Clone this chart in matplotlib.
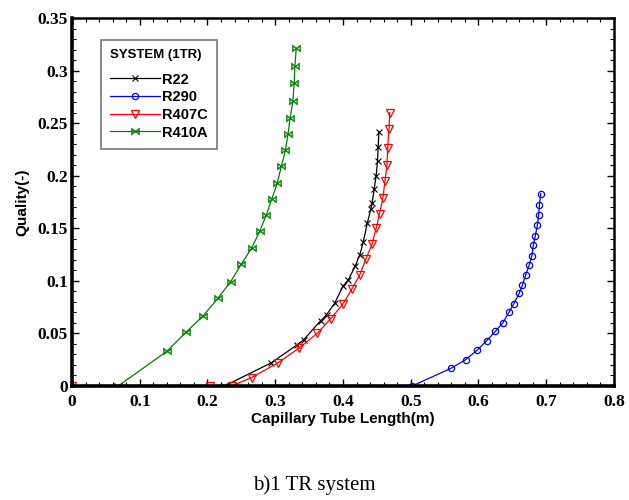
import numpy as np
import matplotlib.pyplot as plt
from matplotlib.ticker import MultipleLocator

# R22 (black, x markers)
r22_len = [0.225, 0.294, 0.332, 0.342, 0.367, 0.376, 0.388, 0.400, 0.408, 0.418,
           0.425, 0.430, 0.436, 0.441, 0.443, 0.446, 0.449, 0.451, 0.452, 0.453]
r22_q = [0.0, 0.022, 0.039, 0.044, 0.062, 0.068, 0.079, 0.095, 0.101, 0.114,
         0.125, 0.137, 0.155, 0.168, 0.174, 0.187, 0.200, 0.214, 0.227, 0.242]

# R290 (blue, circles)
r290_len = [0.502, 0.560, 0.581, 0.598, 0.612, 0.625, 0.636, 0.645, 0.652, 0.660,
            0.665, 0.670, 0.675, 0.679, 0.681, 0.684, 0.687, 0.689, 0.690, 0.692]
r290_q = [0.0, 0.017, 0.025, 0.034, 0.043, 0.052, 0.060, 0.070, 0.078, 0.088,
          0.096, 0.106, 0.115, 0.124, 0.134, 0.143, 0.153, 0.163, 0.172, 0.183]

# R407C (red, down triangles)
r407c_len = [0.0, 0.204, 0.236, 0.265, 0.304, 0.335, 0.362, 0.382, 0.400, 0.413, 0.425,
             0.434, 0.443, 0.449, 0.454, 0.459, 0.462, 0.465, 0.466, 0.468, 0.469]
r407c_q = [0.0, 0.0, 0.0, 0.008, 0.022, 0.036, 0.050, 0.064, 0.078, 0.092, 0.106,
           0.121, 0.135, 0.150, 0.164, 0.179, 0.195, 0.210, 0.226, 0.244, 0.260]

# R410A (green, bowtie)
r410a_len = [0.068, 0.140, 0.168, 0.194, 0.216, 0.234, 0.250, 0.265, 0.277, 0.287,
             0.295, 0.303, 0.309, 0.315, 0.319, 0.322, 0.326, 0.328, 0.329, 0.331]
r410a_q = [0.0, 0.033, 0.051, 0.067, 0.084, 0.099, 0.116, 0.131, 0.147, 0.163,
           0.178, 0.193, 0.209, 0.224, 0.240, 0.255, 0.271, 0.288, 0.304, 0.321]


def main():
    fig = plt.figure(figsize=(6.29, 5.0), dpi=100)
    ax = fig.add_axes([0.1145, 0.228, 0.8615, 0.736])

    ax.plot(r22_len, r22_q, '-', color='black', lw=0.9, marker='x', ms=5,
            mew=0.8, label='R22')
    ax.plot(r290_len, r290_q, '-', color='blue', lw=0.9, marker='o', ms=4.5,
            mfc='none', mew=0.9, label='R290')
    ax.plot(r407c_len, r407c_q, '-', color='red', lw=0.9, marker='v', ms=5.5,
            mfc='none', mew=0.9, label='R407C')
    ax.plot(r410a_len, r410a_q, '-', color='green', lw=0.9,
            marker=r'$\bowtie$', ms=6, mew=0.3, label='R410A')

    ax.set_xlim(0, 0.8)
    ax.set_ylim(0, 0.35)
    ax.xaxis.set_minor_locator(MultipleLocator(0.02))
    ax.yaxis.set_minor_locator(MultipleLocator(0.01))
    ax.set_xticks([0, 0.1, 0.2, 0.3, 0.4, 0.5, 0.6, 0.7, 0.8])
    ax.set_xticklabels(['0', '0.1', '0.2', '0.3', '0.4', '0.5', '0.6', '0.7', '0.8'])
    ax.set_yticks([0, 0.05, 0.1, 0.15, 0.2, 0.25, 0.3, 0.35])
    ax.set_yticklabels(['0', '0.05', '0.1', '0.15', '0.2', '0.25', '0.3', '0.35'])

    ax.tick_params(which='both', direction='in', top=True, right=True)
    ax.tick_params(which='major', length=5, width=1)
    ax.tick_params(which='minor', length=3, width=0.8)
    for lab in ax.get_xticklabels() + ax.get_yticklabels():
        lab.set_fontfamily('Liberation Serif')
        lab.set_fontweight('bold')
        lab.set_fontsize(12.5)
    ax.tick_params(axis='x', pad=6)
    ax.tick_params(axis='y', pad=3)

    for side in ['top', 'right']:
        ax.spines[side].set_linewidth(1.8)
    for side in ['bottom', 'left']:
        ax.spines[side].set_linewidth(2.6)

    ax.set_xlabel('Capillary Tube Length(m)', fontfamily='Liberation Sans',
                  fontweight='bold', fontsize=11, labelpad=1)
    ax.set_ylabel('Quality(-)', fontfamily='Liberation Sans',
                  fontweight='bold', fontsize=11, labelpad=6)

    leg = ax.legend(loc='upper left', bbox_to_anchor=(0.04, 0.96),
                    title='SYSTEM (1TR)', fancybox=False, handlelength=3.4,
                    handletextpad=0.1, borderpad=0.65, labelspacing=0.25,
                    prop={'family': 'Liberation Sans', 'weight': 'bold', 'size': 10.5})
    leg.get_title().set_fontfamily('Liberation Sans')
    leg.get_title().set_fontweight('bold')
    leg.get_title().set_fontsize(9.5)
    leg.get_frame().set_edgecolor('#555555')
    leg.get_frame().set_linewidth(1.2)
    leg._legend_box.align = 'left'
    leg._legend_box.sep = 8

    fig.text(0.5, 0.03, 'b)1 TR system', ha='center', va='center',
             fontfamily='Liberation Serif', fontsize=15)

    fig.savefig('out.png', dpi=100)


if __name__ == '__main__':
    main()
